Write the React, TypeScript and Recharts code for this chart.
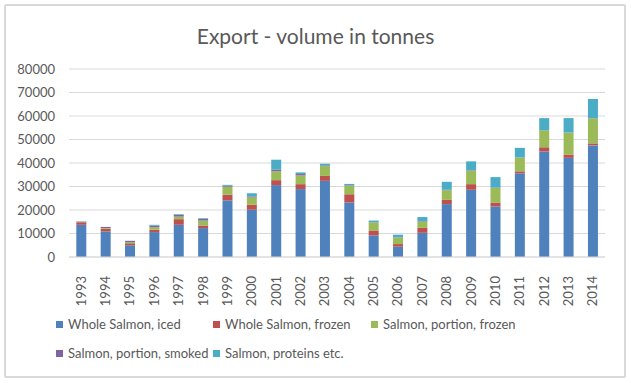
import { BarChart, Bar, XAxis, YAxis, CartesianGrid } from "recharts";

const years = ["1993","1994","1995","1996","1997","1998","1999","2000","2001","2002","2003","2004","2005","2006","2007","2008","2009","2010","2011","2012","2013","2014"];
const iced = [13700,10900,5000,10600,13700,12300,24100,20100,30600,28900,32400,23200,9200,4400,10300,22500,28600,21500,35600,44900,42200,47500];
const frozen = [1100,1100,850,1000,2400,1100,2400,2100,2100,2100,2100,3500,2100,1100,2100,1800,2400,1700,850,1800,1400,850];
const portionFrozen = [200,300,500,1100,1100,2100,3400,3100,3800,3700,4200,3700,3400,2800,2700,4100,5700,6200,5800,7200,9300,10600];
const smoked = [100,500,500,700,700,700,400,400,700,600,300,200,100,100,200,200,200,200,100,100,100,100];
const proteins = [100,0,100,300,300,300,400,1400,4200,700,700,500,700,1100,1700,3400,3800,4400,4100,5100,6100,8200];
const yTicks = [0,10000,20000,30000,40000,50000,60000,70000,80000];

const series = [
  { key: "iced", name: "Whole Salmon, iced", color: "#4F81BD" },
  { key: "frozen", name: "Whole Salmon, frozen", color: "#C0504D" },
  { key: "portionFrozen", name: "Salmon, portion, frozen", color: "#9BBB59" },
  { key: "smoked", name: "Salmon, portion, smoked", color: "#8064A2" },
  { key: "proteins", name: "Salmon, proteins etc.", color: "#4BACC6" },
];

const data = years.map((y, i) => ({
  year: y,
  iced: iced[i],
  frozen: frozen[i],
  portionFrozen: portionFrozen[i],
  smoked: smoked[i],
  proteins: proteins[i],
}));

const font = "Lato, 'Open Sans', sans-serif";
const textColor = "#595959";

function YearTick(props: any) {
  const { x, y, payload } = props;
  return (
    <text
      x={x}
      y={y + 11}
      transform={`rotate(-90, ${x}, ${y + 11})`}
      textAnchor="end"
      dy="0.35em"
      fill={textColor}
      fontSize={13}
      fontFamily={font}
    >
      {payload.value}
    </text>
  );
}

// legend laid out as a 3-column grid like Excel does
function LegendBox() {
  const cols = [56, 213, 371];
  const rows = [324, 353];
  return (
    <>
      {series.map((s, i) => (
        <div
          key={s.key}
          style={{
            position: "absolute",
            left: cols[i % 3],
            top: rows[Math.floor(i / 3)] - 9,
            height: 18,
            display: "flex",
            alignItems: "center",
            fontFamily: font,
            fontSize: 13,
            color: textColor,
            whiteSpace: "nowrap",
          }}
        >
          <span style={{ display: "inline-block", width: 7, height: 7, background: s.color, marginRight: 5 }} />
          {s.name}
        </div>
      ))}
    </>
  );
}

export default function App() {
  return (
    <div style={{ position: "absolute", left: 0, top: 0, width: 631, height: 383, background: "#fff" }}>
      <div
        style={{
          position: "absolute",
          left: 4,
          top: 4,
          width: 618,
          height: 370,
          border: "2px solid #d9d9d9",
          borderRadius: 2,
        }}
      />
      <div
        style={{
          position: "absolute",
          left: 0,
          width: 631,
          top: 22,
          textAlign: "center",
          fontFamily: font,
          fontSize: 21,
          color: textColor,
          lineHeight: "28px",
        }}
      >
        Export - volume in tonnes
      </div>
      <BarChart
        width={631}
        height={383}
        data={data}
        margin={{ top: 69, right: 26, bottom: 86, left: 0 }}
        barCategoryGap="30%"
        style={{ position: "absolute", left: 0, top: 0 }}
      >
        <CartesianGrid vertical={false} stroke="#d9d9d9" strokeWidth={1.2} />
        <XAxis
          dataKey="year"
          interval={0}
          height={40}
          tickLine={false}
          axisLine={{ stroke: "#d9d9d9", strokeWidth: 1.2 }}
          tick={<YearTick />}
        />
        <YAxis
          width={69}
          domain={[0, 80000]}
          ticks={yTicks}
          tickLine={false}
          axisLine={false}
          tickMargin={8}
          tick={{ fill: textColor, fontSize: 13, fontFamily: font }}
        />
        {series.map((s) => (
          <Bar key={s.key} dataKey={s.key} name={s.name} stackId="a" fill={s.color} isAnimationActive={false} />
        ))}
      </BarChart>
      <LegendBox />
    </div>
  );
}
